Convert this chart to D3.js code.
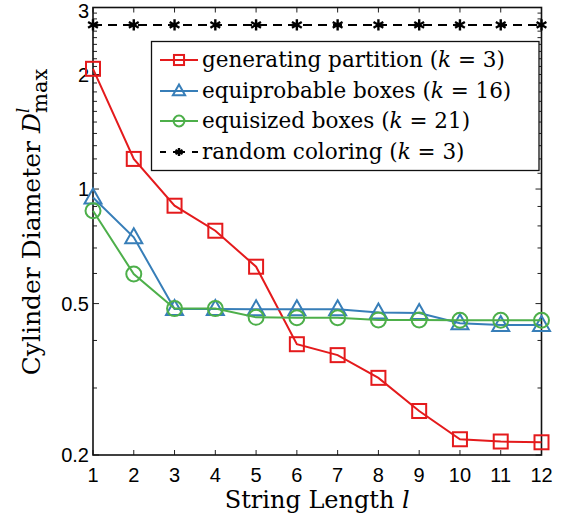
<!DOCTYPE html>
<html>
<head>
<meta charset="utf-8">
<script src="https://cdn.jsdelivr.net/npm/d3@7"></script>
<style>
  body { margin: 0; background: #fff; }
  svg { display: block; }
</style>
</head>
<body>
<svg id="chart"></svg>
<script>
// data
const lengths = [1, 2, 3, 4, 5, 6, 7, 8, 9, 10, 11, 12];
const generating = [2.07, 1.2, 0.904, 0.777, 0.625, 0.391, 0.366, 0.319, 0.261, 0.220, 0.217, 0.216];
const equiprobable = [0.95, 0.747, 0.484, 0.484, 0.483, 0.483, 0.483, 0.474, 0.472, 0.444, 0.439, 0.439];
const equisized = [0.877, 0.598, 0.485, 0.485, 0.460, 0.459, 0.459, 0.453, 0.453, 0.452, 0.452, 0.452];
const randomColoring = [2.7, 2.7, 2.7, 2.7, 2.7, 2.7, 2.7, 2.7, 2.7, 2.7, 2.7, 2.7];
const yTicks = [0.2, 0.5, 1, 2, 3];
const yMinor = [0.3, 0.4, 0.6, 0.7, 0.8, 0.9, 1.1, 1.2, 1.3, 1.4, 1.5, 1.6, 1.7, 1.8, 1.9,
                2.1, 2.2, 2.3, 2.4, 2.5, 2.6, 2.7, 2.8, 2.9];

const series = [
  {name: "generating partition (", k: "3", values: generating, color: "#e41a1c", marker: "square"},
  {name: "equiprobable boxes (", k: "16", values: equiprobable, color: "#377eb8", marker: "triangle"},
  {name: "equisized boxes (", k: "21", values: equisized, color: "#4daf4a", marker: "circle"},
  {name: "random coloring (", k: "3", values: randomColoring, color: "#000", marker: "star", dashed: true}
];

const width = 567, height = 519;
const margin = {top: 7.5, right: 25.5, bottom: 64, left: 93};
const sans = "'Liberation Sans', Arial, sans-serif";
const serif = "'DejaVu Serif', 'Liberation Serif', serif";

const svg = d3.select("#chart").attr("width", width).attr("height", height);

const xScale = d3.scaleLinear().domain([1, 12]).range([margin.left, width - margin.right]);
const yScale = d3.scaleLog().domain([0.2, 3]).range([height - margin.bottom, margin.top]);

const x0 = margin.left, x1 = width - margin.right;
const y0 = height - margin.bottom, y1 = margin.top;

// ticks, inward on all four sides
const tickG = svg.append("g").attr("stroke", "#222").attr("stroke-width", 1);
lengths.forEach(function(d) {
  tickG.append("line").attr("x1", xScale(d)).attr("x2", xScale(d)).attr("y1", y0).attr("y2", y0 - 5);
  tickG.append("line").attr("x1", xScale(d)).attr("x2", xScale(d)).attr("y1", y1).attr("y2", y1 + 5);
});
yTicks.concat(yMinor).forEach(function(d) {
  const len = yTicks.includes(d) ? 6 : 4;
  tickG.append("line").attr("x1", x0).attr("x2", x0 + len).attr("y1", yScale(d)).attr("y2", yScale(d));
  tickG.append("line").attr("x1", x1).attr("x2", x1 - len).attr("y1", yScale(d)).attr("y2", yScale(d));
});

// frame
svg.append("rect")
  .attr("x", x0).attr("y", y1)
  .attr("width", x1 - x0).attr("height", y0 - y1)
  .attr("fill", "none").attr("stroke", "#111").attr("stroke-width", 1.6);

// tick labels
svg.append("g").selectAll("text")
  .data(lengths)
  .enter().append("text")
  .attr("x", d => xScale(d)).attr("y", y0 + 27)
  .attr("text-anchor", "middle")
  .attr("font-family", sans).attr("font-size", 20)
  .text(d => d);

svg.append("g").selectAll("text")
  .data(yTicks)
  .enter().append("text")
  .attr("x", x0 - 4).attr("y", d => Math.max(yScale(d) + 7, 18))
  .attr("text-anchor", "end")
  .attr("font-family", sans).attr("font-size", 20)
  .text(d => d);

// axis titles
const xt = svg.append("text")
  .attr("x", (x0 + x1) / 2).attr("y", height - 11)
  .attr("text-anchor", "middle")
  .attr("font-family", serif).attr("font-size", 24);
xt.append("tspan").text("String Length ");
xt.append("tspan").attr("font-style", "italic").text("l");

const yt = svg.append("text")
  .attr("transform", "translate(40,222) rotate(-90)")
  .attr("text-anchor", "middle")
  .attr("font-family", serif).attr("font-size", 25);
yt.append("tspan").text("Cylinder Diameter ");
yt.append("tspan").attr("font-style", "italic").text("D");
yt.append("tspan").attr("font-size", 16).attr("font-style", "italic").attr("dy", -11).attr("dx", 0).text("l");
yt.append("tspan").attr("font-size", 21).attr("dy", 18).attr("dx", -5).text("max");

// markers
function drawMarker(g, type, color, s) {
  if (type === "square") {
    g.append("rect").attr("x", -7 * s).attr("y", -7 * s).attr("width", 14 * s).attr("height", 14 * s)
      .attr("fill", "none").attr("stroke", color).attr("stroke-width", 2);
  } else if (type === "triangle") {
    g.append("path").attr("d", "M0," + (-9 * s) + "L" + (8.5 * s) + "," + (6 * s) + "L" + (-8.5 * s) + "," + (6 * s) + "Z")
      .attr("fill", "none").attr("stroke", color).attr("stroke-width", 2);
  } else if (type === "circle") {
    g.append("circle").attr("r", 7.5 * s)
      .attr("fill", "none").attr("stroke", color).attr("stroke-width", 2);
  } else {
    g.append("path").attr("d", d3.symbol(d3.symbolAsterisk, 90 * s * s)())
      .attr("fill", "none").attr("stroke", color).attr("stroke-width", 2.4);
  }
}

const line = d3.line().x((d, i) => xScale(lengths[i])).y(d => yScale(d));

series.forEach(function(s) {
  svg.append("path")
    .datum(s.values)
    .attr("d", line)
    .attr("fill", "none")
    .attr("stroke", s.color)
    .attr("stroke-width", 2)
    .attr("stroke-dasharray", s.dashed ? "9,6" : null);
  s.values.forEach(function(v, i) {
    const g = svg.append("g").attr("transform", "translate(" + xScale(lengths[i]) + "," + yScale(v) + ")");
    drawMarker(g, s.marker, s.color, 1);
  });
});

// legend
const lx = 151.5, ly = 41.5, lw = 387.5, lh = 129;
svg.append("rect").attr("x", lx).attr("y", ly).attr("width", lw).attr("height", lh)
  .attr("fill", "#fff").attr("stroke", "#111").attr("stroke-width", 1.3);

const rowY = [60, 91, 121, 152];
series.forEach(function(s, i) {
  const y = rowY[i];
  svg.append("line").attr("x1", 160).attr("x2", 198).attr("y1", y).attr("y2", y)
    .attr("stroke", s.color).attr("stroke-width", 2)
    .attr("stroke-dasharray", s.dashed ? "6,7,12,7,6" : null);
  const g = svg.append("g").attr("transform", "translate(179," + y + ")");
  drawMarker(g, s.marker, s.color, 0.72);
  const t = svg.append("text").attr("x", 202).attr("y", y + 7)
    .attr("font-family", serif).attr("font-size", 21.5);
  t.append("tspan").text(s.name);
  t.append("tspan").attr("font-style", "italic").text("k");
  t.append("tspan").text(" = " + s.k + ")");
});
</script>
</body>
</html>
